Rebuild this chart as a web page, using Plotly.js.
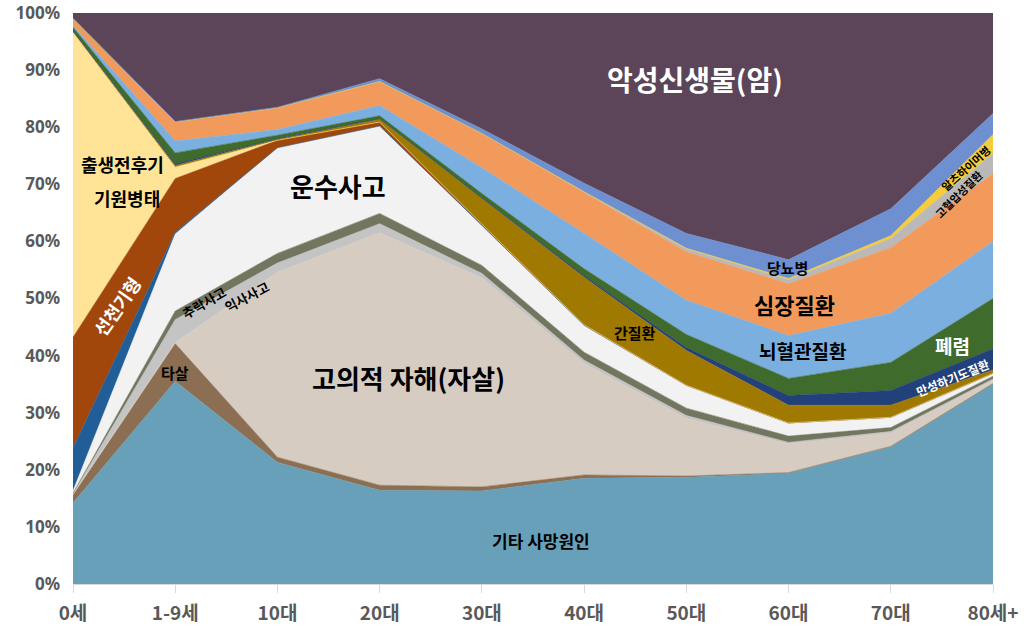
<!DOCTYPE html>
<html><head><meta charset="utf-8">
<script src="https://cdn.plot.ly/plotly-3.0.1.min.js"></script>
<style>html,body{margin:0;padding:0;background:#fff}#chart{width:1024px;height:634px}</style>
</head><body><div id="chart"></div>
<script>
const categories = ['0세','1-9세','10대','20대','30대','40대','50대','60대','70대','80세+'];
const yTickValues = [0,10,20,30,40,50,60,70,80,90,100];
const yTickLabels = ['0%','10%','20%','30%','40%','50%','60%','70%','80%','90%','100%'];

const otherCauses   = [14.2, 35.5, 21.3, 16.4, 16.3, 18.5, 18.7, 19.4, 24.0, 35.0];
const homicide      = [1.4, 6.6, 0.9, 0.9, 0.7, 0.6, 0.2, 0.1, 0.1, 0.1];
const suicide       = [0.1, 0.2, 32.4, 44.2, 36.6, 19.5, 10.1, 5.0, 2.3, 0.6];
const drowning      = [0.1, 4.0, 1.6, 1.6, 0.8, 0.6, 0.5, 0.3, 0.3, 0.2];
const falls         = [0.1, 1.5, 1.7, 1.8, 1.4, 1.4, 1.3, 1.1, 0.7, 0.5];
const transport     = [0.4, 13.5, 18.5, 15.3, 7.0, 4.7, 4.0, 2.3, 1.8, 0.5];
const sids          = [7.5, 0.3, 0, 0, 0, 0, 0, 0, 0, 0];
const congenital    = [19.4, 9.4, 1.3, 0.7, 0.2, 0.1, 0, 0, 0, 0];
const perinatal     = [53.4, 2.0, 0, 0, 0, 0, 0, 0, 0, 0];
const liver         = [0.2, 0.3, 0.2, 0.5, 4.5, 8.3, 6.1, 3.1, 2.1, 0.6];
const copd          = [0.1, 0.3, 0.1, 0.1, 0.1, 0.3, 0.5, 1.7, 2.6, 3.7];
const pneumonia     = [0.6, 1.9, 0.6, 0.5, 0.8, 1.2, 2.3, 3.0, 4.9, 8.8];
const cerebro       = [0.3, 2.1, 1.0, 1.8, 4.5, 6.2, 6.0, 7.5, 8.6, 10.0];
const heart         = [1.2, 3.3, 3.8, 4.2, 6.0, 7.1, 8.5, 9.1, 11.5, 11.9];
const hypertensive  = [0, 0, 0, 0, 0, 0.2, 0.5, 0.7, 1.6, 3.5];
const alzheimer     = [0, 0, 0, 0, 0, 0, 0.1, 0.2, 0.5, 3.3];
const diabetes      = [0.1, 0.1, 0.1, 0.5, 0.8, 1.5, 2.6, 3.3, 4.7, 3.7];
const cancer        = [0.9, 19.0, 16.5, 11.5, 20.3, 29.8, 38.6, 43.2, 34.3, 17.6];

const seriesNames = ['기타 사망원인','타살','고의적 자해(자살)','익사사고','추락사고','운수사고','영아돌연사증후군','선천기형','출생전후기 기원병태','간질환','만성하기도질환','폐렴','뇌혈관질환','심장질환','고혈압성질환','알츠하이머병','당뇨병','악성신생물(암)'];
const seriesValues = [otherCauses, homicide, suicide, drowning, falls, transport, sids, congenital, perinatal, liver, copd, pneumonia, cerebro, heart, hypertensive, alzheimer, diabetes, cancer];
const seriesColors = ['#68A0BA','#8C6E53','#D6CCC2','#C4C4C4','#72765F','#F3F2F2','#215E97','#A2470C','#FFE396','#A07A00','#22407A','#3F6B2C','#7AAFE0','#F29A5C','#B9B9B9','#F6CC3A','#6F90D0','#5C4558'];

const traces = seriesNames.map((n, i) => ({
  type: 'scatter', mode: 'lines', name: n, x: categories, y: seriesValues[i],
  stackgroup: 'one',
  line: {width: 0.6, color: seriesColors[i]}, fillcolor: seriesColors[i],
  hoverinfo: 'name+y'
}));

const F = 'Noto Sans CJK KR, Noto Sans, sans-serif';
function ann(text, x, y, size, color, angle) {
  return {text: text, x: x, y: y, xref: 'x', yref: 'y', showarrow: false,
    font: {family: F, size: size, color: color, weight: 'bold'}, textangle: angle || 0};
}
const annotations = [
  ann('악성신생물(암)', 6.08, 88.5, 28, '#FFFFFF'),
  ann('운수사고', 2.59, 69.8, 26, '#000000'),
  ann('고의적 자해(자살)', 3.28, 36.2, 26, '#000000'),
  ann('기타 사망원인', 4.58, 7.7, 17, '#000000'),
  ann('출생전후기', 0.48, 73.6, 18, '#000000'),
  ann('기원병태', 0.53, 67.6, 18, '#000000'),
  ann('선천기형', 0.43, 48.6, 18, '#FFFFFF', -55),
  ann('추락사고', 1.28, 49.3, 13, '#000000', -30),
  ann('익사사고', 1.70, 50.3, 13, '#000000', -28),
  ann('타살', 1.0, 37.0, 15, '#000000'),
  ann('간질환', 5.50, 44.1, 15, '#000000'),
  ann('당뇨병', 6.99, 55.4, 15, '#000000'),
  ann('심장질환', 7.06, 49.0, 22, '#000000'),
  ann('뇌혈관질환', 7.14, 40.9, 19, '#000000'),
  ann('폐렴', 8.60, 41.8, 19, '#FFFFFF'),
  ann('만성하기도질환', 8.60, 36.1, 12, '#FFFFFF', -22),
  ann('알츠하이머병', 8.73, 72.9, 11, '#000000', -42),
  ann('고혈압성질환', 8.66, 68.3, 11, '#000000', -45)
];

const layout = {
  width: 1024, height: 634,
  margin: {l: 73, r: 31, t: 13, b: 50},
  paper_bgcolor: '#FFFFFF', plot_bgcolor: '#FFFFFF',
  showlegend: false,
  xaxis: {type: 'category', range: [0, 9], showgrid: false, zeroline: false,
    showline: true, linecolor: '#D9D9D9', linewidth: 1,
    ticks: 'outside', ticklen: 8, tickcolor: '#D9D9D9',
    ticklabelstandoff: 4, ticklabeloverflow: 'allow',
    tickfont: {family: F, size: 19, color: '#595959', weight: 'bold'}},
  yaxis: {range: [0, 100], showgrid: false, zeroline: false, showline: false,
    tickmode: 'array', tickvals: yTickValues, ticktext: yTickLabels,
    ticklabelstandoff: 12, ticklabeloverflow: 'allow',
    tickfont: {family: 'Noto Sans, Liberation Sans, sans-serif', size: 17, color: '#595959', weight: 'bold'}},
  annotations: annotations
};

Plotly.newPlot('chart', traces, layout, {staticPlot: true});
</script>
</body></html>
